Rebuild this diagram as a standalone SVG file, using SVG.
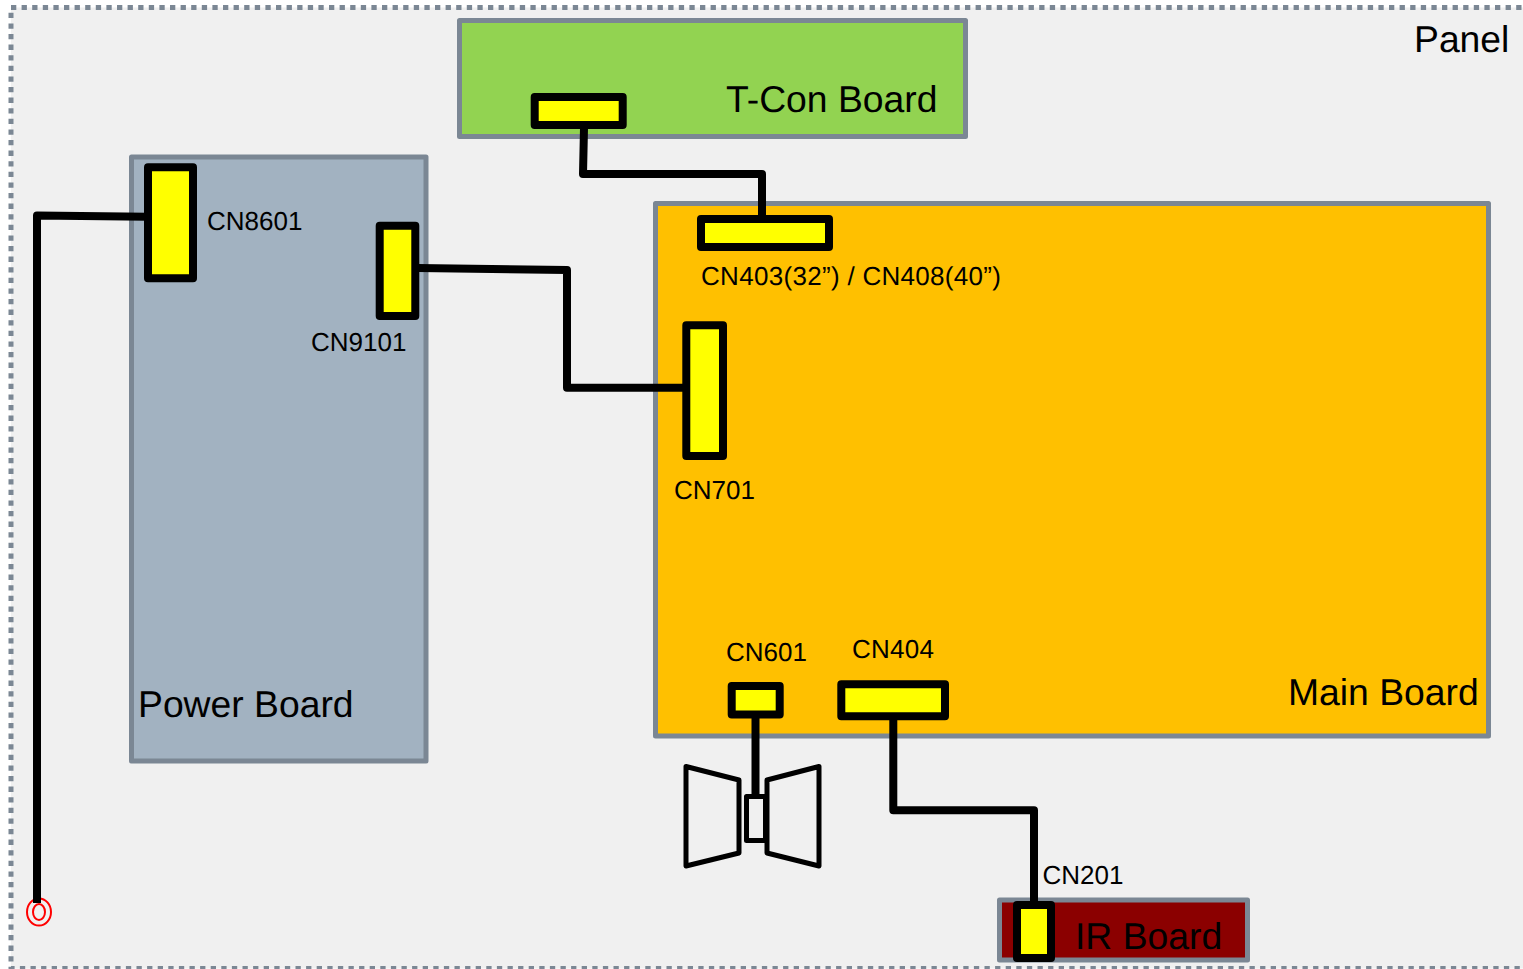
<svg xmlns="http://www.w3.org/2000/svg" width="1523" height="969" viewBox="0 0 1523 969">
<style>
text{font-family:"Liberation Sans",Arial,sans-serif;fill:#000;text-rendering:geometricPrecision}
.big{font-size:37.300px}
.sm{font-size:26px}
.board{stroke:#7b8794;stroke-width:5;stroke-linejoin:round}
.conn{fill:#ff0;stroke:#000;stroke-width:8;stroke-linejoin:round}
.wire{fill:none;stroke:#000;stroke-width:8;stroke-linejoin:round}
.spk{fill:#f0f0f0;stroke:#000;stroke-width:5;stroke-linejoin:round}
</style>
<rect width="1523" height="969" fill="#fff"/>
<g id="panel">
<rect x="11" y="7.500" width="1530" height="961" fill="#f0f0f0" stroke="#7b8794" stroke-width="5" stroke-dasharray="5.300 5.300"/>
<text class="big" x="1414" y="52">Panel</text>
</g>
<g id="tcon-board">
<rect class="board" x="459.500" y="20.500" width="506" height="116" fill="#92d351"/>
<text class="big" x="726" y="112">T-Con Board</text>
</g>
<g id="power-board">
<rect class="board" x="131.500" y="157" width="294.500" height="604" fill="#a2b2c1"/>
<text class="big" x="138" y="717">Power Board</text>
</g>
<g id="main-board">
<rect class="board" x="655.500" y="203.500" width="833" height="532.500" fill="#ffc000"/>
<text class="big" x="1288" y="705">Main Board</text>
</g>
<g id="ir-board">
<rect class="board" x="999.500" y="900" width="248" height="60" fill="#8b0000"/>
<text class="big" x="1075" y="949">IR Board</text>
</g>
<g id="power-plug">
<ellipse cx="39" cy="912" rx="12" ry="13.500" fill="none" stroke="#f00" stroke-width="2"/>
<ellipse cx="39" cy="912" rx="6" ry="8" fill="none" stroke="#f00" stroke-width="2"/>
</g>
<g id="connectors">
<path class="wire" d="M147 216.700 L37 215.500 V903"/>
<path class="wire" d="M418 268 L567 270 V387.700 H684"/>
<path class="wire" d="M584 128 L583 174 H762 V216"/>
<path class="wire" d="M893.300 718 V810.300 H1034 V903"/>
<path class="wire" d="M755.500 718 V795"/>
</g>
<g id="speaker">
<path class="spk" d="M686 766.500 L739 780 V853 L686 866 Z"/>
<path class="spk" d="M819 766.500 L767 780 V853 L819 866 Z"/>
<rect class="spk" x="746.500" y="796.500" width="19" height="44"/>
</g>
<g id="cn8601"><rect class="conn" x="148" y="167.300" width="45" height="111"/><text class="sm" x="207" y="230">CN8601</text></g>
<g id="cn9101"><rect class="conn" x="379.700" y="225.700" width="35.600" height="90.300"/><text class="sm" x="311" y="351">CN9101</text></g>
<g id="cn-tcon"><rect class="conn" x="534.700" y="97" width="88" height="28"/></g>
<g id="cn403"><rect class="conn" x="701" y="219" width="128" height="28"/><text class="sm" x="701" y="285" textLength="300" lengthAdjust="spacing">CN403(32”) / CN408(40”)</text></g>
<g id="cn701"><rect class="conn" x="686.300" y="325.300" width="36.700" height="130.700"/><text class="sm" x="674" y="499">CN701</text></g>
<g id="cn601"><rect class="conn" x="731.700" y="686" width="48" height="28.500"/><text class="sm" x="726" y="661">CN601</text></g>
<g id="cn404"><rect class="conn" x="841.300" y="684.300" width="103.700" height="32"/><text class="sm" x="852" y="658" textLength="82" lengthAdjust="spacing">CN404</text></g>
<g id="cn201"><rect class="conn" x="1017" y="905" width="34" height="53"/><text class="sm" x="1042.500" y="884">CN201</text></g>
</svg>
